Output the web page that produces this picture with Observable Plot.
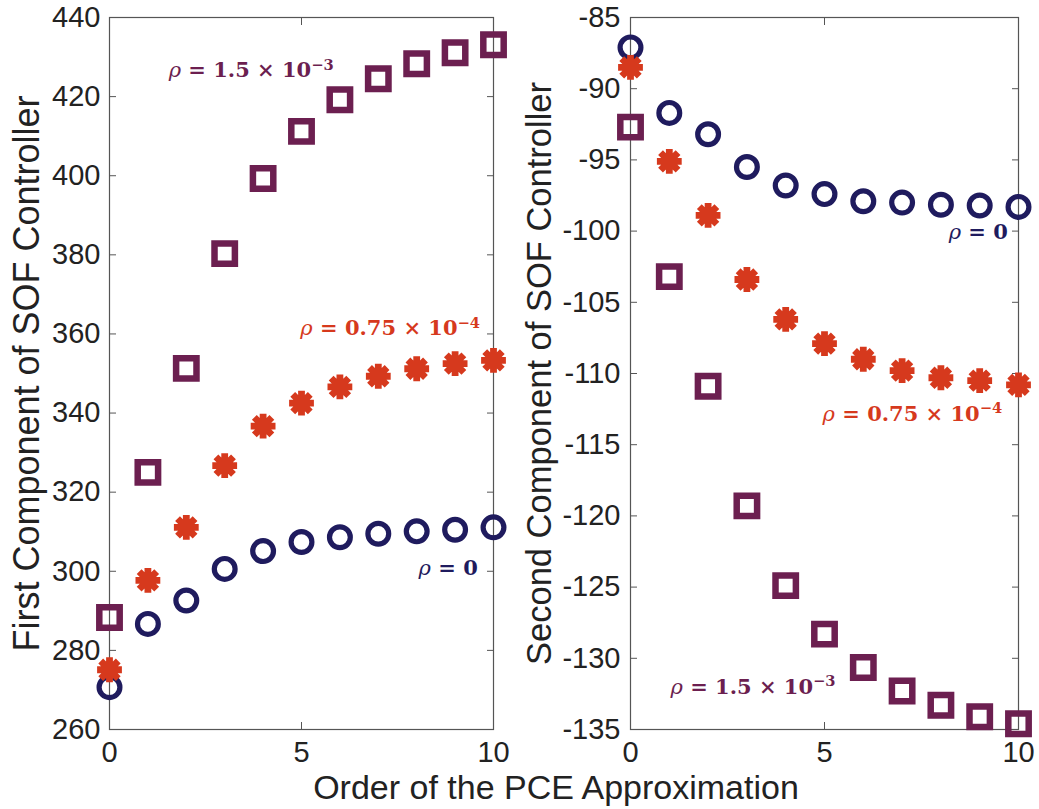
<!DOCTYPE html>
<html>
<head>
<meta charset="utf-8">
<script src="https://cdn.jsdelivr.net/npm/d3@7"></script>
<script src="https://cdn.jsdelivr.net/npm/@observablehq/plot@0.6"></script>
<style>
  body { margin: 0; background: #fff; }
  #wrap { position: relative; width: 1039px; height: 809px; overflow: hidden; background: #fff;
          font-family: "Liberation Sans", Arial, sans-serif; }
  .panel { position: absolute; top: 0; }
  #xlabel { position: absolute; left: 256px; width: 600px; top: 767px; line-height: 40px;
            text-align: center; font-size: 34px; color: #222; }
</style>
</head>
<body>
<div id="wrap">
  <div id="left" class="panel" style="left:0px"></div>
  <div id="right" class="panel" style="left:520px"></div>
  <div id="xlabel">Order of the PCE Approximation</div>
</div>
<script>
// ---- data ----
const orders = [0, 1, 2, 3, 4, 5, 6, 7, 8, 9, 10];
const xTicks = [0, 5, 10];

const firstRho0    = [270.7, 286.7, 292.6, 300.6, 305.1, 307.4, 308.6, 309.5, 310.1, 310.5, 311.1];
const firstRhoMid  = [275.1, 297.7, 311.1, 326.7, 336.7, 342.5, 346.6, 349.3, 351.2, 352.5, 353.3];
const firstRhoHigh = [288.3, 325.0, 351.3, 380.3, 399.3, 411.2, 419.2, 424.5, 428.3, 431.1, 433.1];

const secondRho0    = [-87.1, -91.7, -93.2, -95.5, -96.8, -97.4, -97.9, -98.0, -98.15, -98.2, -98.3];
const secondRhoMid  = [-88.5, -95.1, -98.9, -103.4, -106.2, -107.9, -109.0, -109.8, -110.3, -110.5, -110.8];
const secondRhoHigh = [-92.7, -103.2, -110.9, -119.3, -124.9, -128.3, -130.65, -132.3, -133.3, -134.1, -134.6];

const firstTicks  = [260, 280, 300, 320, 340, 360, 380, 400, 420, 440];
const secondTicks = [-135, -130, -125, -120, -115, -110, -105, -100, -95, -90, -85];

const seriesNames = ["rho0", "rhoMid", "rhoHigh"];
const labelTexts  = ["ρ = 0", "ρ = 0.75 × 10^−4", "ρ = 1.5 × 10^−3"];
const firstLabelX  = [8.05, 4.97, 1.54];
const firstLabelY  = [300.7, 361.4, 426.6];
const secondLabelX = [8.2, 4.95, 1.03];
const secondLabelY = [-100.1, -112.85, -132.0];

const yLabels = ["First Component of SOF Controller", "Second Component of SOF Controller"];
const xLabel = "Order of the PCE Approximation";

// ---- styles ----
const colors = {rho0: "#1f1b5e", rhoMid: "#d6391d", rhoHigh: "#6c1f50"};
const axisColor = "#555";

// MATLAB-like '*' marker: 8 thick spokes
const asterisk8 = {
  draw(context, size) {
    const r = Math.sqrt(size / Math.PI);
    for (let k = 0; k < 4; ++k) {
      const a = k * Math.PI / 4;
      const c = Math.cos(a) * r, s = Math.sin(a) * r;
      context.moveTo(-c, -s);
      context.lineTo(c, s);
    }
  }
};

function rows(values) { return orders.map((o, i) => ({order: o, value: values[i]})); }

function panel({el, width, marginLeft, marginRight, yDomain, yTicks, s0, s1, s2, labX, labY, yLabel, yLabelDx, yLabelSize, tickPad}) {
  const labels = labelTexts.map((t, i) => ({text: t, x: labX[i], y: labY[i], c: colors[seriesNames[i]]}));
  const chart = Plot.plot({
    width, height: 770,
    marginLeft, marginRight, marginTop: 17, marginBottom: 41,
    style: {fontFamily: "Liberation Sans, Arial, sans-serif", fontSize: "29px", color: "#222", background: "transparent", overflow: "visible"},
    x: {domain: [0, 10], ticks: xTicks},
    y: {domain: yDomain, ticks: yTicks},
    marks: [
      Plot.frame({stroke: axisColor, strokeWidth: 1.2}),
      Plot.axisX({anchor: "bottom", ticks: xTicks, tickSize: -7, tickPadding: 19, label: null, stroke: axisColor, tickFormat: d => String(d)}),
      Plot.axisX({anchor: "top", ticks: xTicks, tickSize: -7, tickPadding: 0, label: null, stroke: axisColor, tickFormat: () => ""}),
      Plot.axisY({anchor: "left", ticks: yTicks, tickSize: -7, tickPadding: tickPad, label: null, stroke: axisColor, tickFormat: d => String(d)}),
      Plot.axisY({anchor: "right", ticks: yTicks, tickSize: -7, tickPadding: 0, label: null, stroke: axisColor, tickFormat: () => ""}),
      Plot.text([yLabel], {frameAnchor: "left", textAnchor: "middle", lineAnchor: "middle", rotate: -90, dx: yLabelDx, fontSize: yLabelSize, text: d => d, fill: "#222"}),
      Plot.dot(rows(s0), {x: "order", y: "value", symbol: "circle", r: 10.4, stroke: colors.rho0, strokeWidth: 5.2, fill: "none"}),
      Plot.dot(rows(s1), {x: "order", y: "value", symbol: asterisk8, r: 12.4, stroke: colors.rhoMid, strokeWidth: 6.8, fill: "none"}),
      Plot.dot(rows(s2), {x: "order", y: "value", symbol: "square", r: 11.5, stroke: colors.rhoHigh, strokeWidth: 6.5, fill: "none"}),
      Plot.text(labels, {x: "x", y: "y", text: "text", fill: "c", textAnchor: "start", className: "rho",
                         fontFamily: "DejaVu Serif, serif", fontSize: 21, fontWeight: "bold"})
    ]
  });
  document.getElementById(el).appendChild(chart);
  // typeset the ρ labels: italic ρ, bold body, superscript exponent
  d3.select(chart).selectAll("g.rho text").each(function() {
    const t = d3.select(this);
    const s = t.text();
    const [body, exp] = s.split("^");
    t.text(null);
    t.append("tspan").attr("font-style", "italic").attr("font-weight", "normal").text(body[0]);
    t.append("tspan").attr("xml:space", "preserve").text(body.slice(1));
    if (exp) t.append("tspan").attr("dy", "-0.5em").attr("font-size", "0.7em").text(exp);
  });
}

panel({el: "left", width: 520, marginLeft: 109, marginRight: 27,
       yDomain: [260, 440], yTicks: firstTicks,
       s0: firstRho0, s1: firstRhoMid, s2: firstRhoHigh,
       labX: firstLabelX, labY: firstLabelY, yLabel: yLabels[0], yLabelDx: -82, yLabelSize: 36, tickPad: 16});
panel({el: "right", width: 519, marginLeft: 110, marginRight: 21,
       yDomain: [-135, -85], yTicks: secondTicks,
       s0: secondRho0, s1: secondRhoMid, s2: secondRhoHigh,
       labX: secondLabelX, labY: secondLabelY, yLabel: yLabels[1], yLabelDx: -91, yLabelSize: 34.5, tickPad: 17});
document.getElementById("xlabel").textContent = xLabel;
</script>
</body>
</html>
